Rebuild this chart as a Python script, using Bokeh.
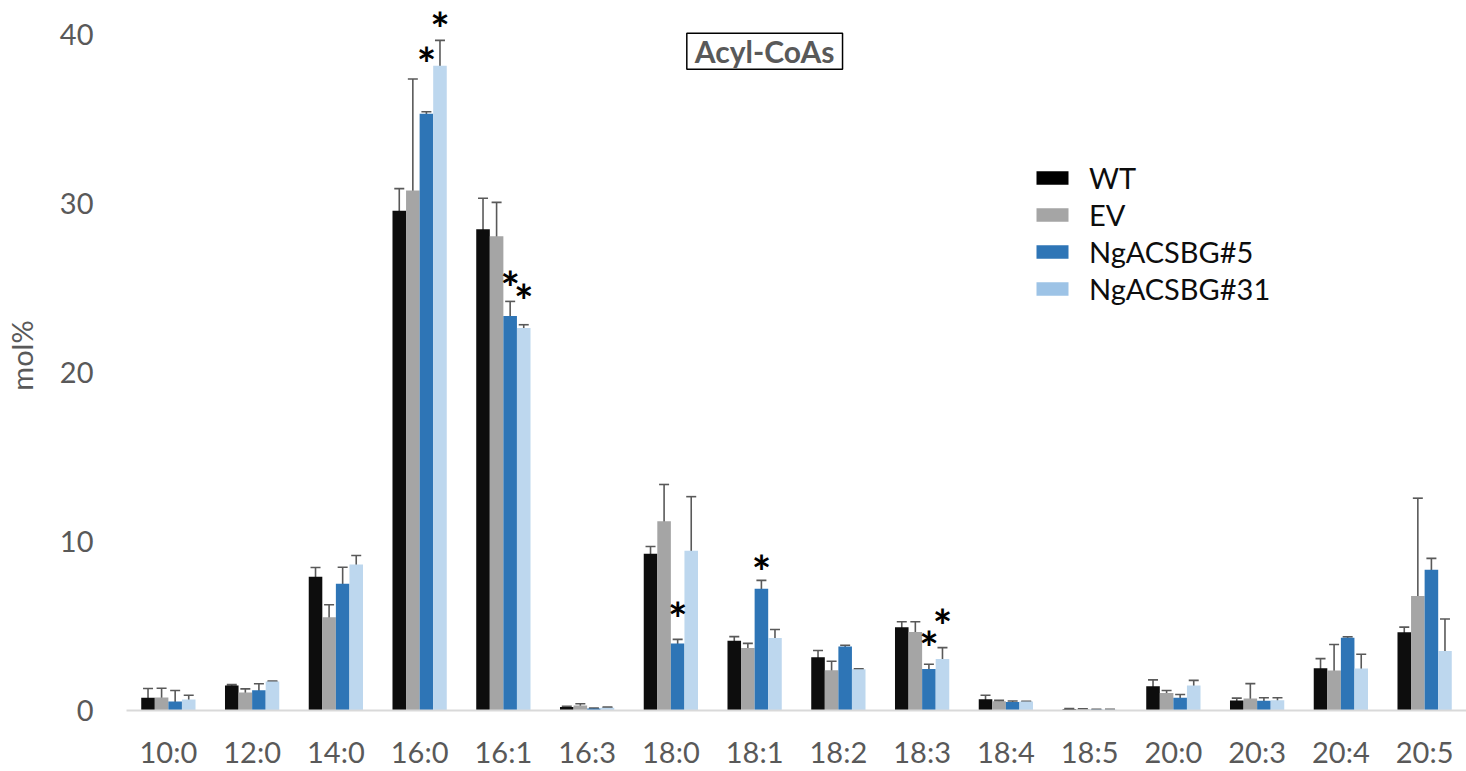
import numpy as np
from bokeh.plotting import figure
from bokeh.models import (FactorRange, Range1d, ColumnDataSource, Whisker, TeeHead,
                          Label, Legend, LegendItem, FixedTicker)
from bokeh.core.properties import value
from bokeh.embed import file_html
from bokeh.resources import INLINE

categories = ["10:0", "12:0", "14:0", "16:0", "16:1", "16:3", "18:0", "18:1",
              "18:2", "18:3", "18:4", "18:5", "20:0", "20:3", "20:4", "20:5"]
series = ["WT", "EV", "NgACSBG#5", "NgACSBG#31"]

wt     = [0.75, 1.48, 7.91, 29.57, 28.47, 0.20, 9.27, 4.13, 3.15, 4.92, 0.67, 0.08, 1.44, 0.59, 2.50, 4.63]
wt_err = [0.55, 0.05, 0.55, 1.30, 1.83, 0.05, 0.43, 0.24, 0.40, 0.33, 0.23, 0.03, 0.37, 0.14, 0.57, 0.30]
ev     = [0.77, 1.06, 5.51, 30.76, 28.06, 0.30, 11.20, 3.70, 2.38, 4.65, 0.55, 0.08, 1.04, 0.71, 2.36, 6.77]
ev_err = [0.55, 0.22, 0.75, 6.60, 2.00, 0.10, 2.17, 0.27, 0.53, 0.60, 0.05, 0.02, 0.14, 0.88, 1.54, 5.79]
ng5     = [0.53, 1.20, 7.50, 35.30, 23.33, 0.12, 3.96, 7.20, 3.78, 2.46, 0.51, 0.05, 0.75, 0.57, 4.31, 8.33]
ng5_err = [0.65, 0.38, 0.97, 0.12, 0.87, 0.03, 0.25, 0.50, 0.08, 0.28, 0.05, 0.02, 0.20, 0.18, 0.05, 0.67]
ng31     = [0.65, 1.71, 8.64, 38.14, 22.62, 0.17, 9.45, 4.29, 2.44, 3.05, 0.53, 0.05, 1.48, 0.61, 2.48, 3.52]
ng31_err = [0.25, 0.03, 0.53, 1.50, 0.20, 0.03, 3.20, 0.50, 0.03, 0.67, 0.02, 0.02, 0.30, 0.14, 0.85, 1.89]

# significance markers: (category, series index, height)
star_cat = ["16:0", "16:0", "16:1", "16:1", "18:0", "18:1", "18:3", "18:3"]
star_ser = [2, 3, 2, 3, 2, 2, 2, 3]
star_y   = [38.9, 41.0, 25.7, 24.9, 6.1, 8.9, 4.4, 5.7]

y_ticks = [0, 10, 20, 30, 40]
title_text = "Acyl-CoAs"

values = [wt, ev, ng5, ng31]
errors = [wt_err, ev_err, ng5_err, ng31_err]
bar_colors = ["#0d0d0d", "#a5a5a5", "#2e75b6", "#bdd7ee"]
legend_colors = ["#000000", "#a5a5a5", "#2e75b6", "#9dc3e6"]

FONT = "Lato"
GRAY = "#595959"
BAR_W = 0.162
offsets = [-1.5 * BAR_W, -0.5 * BAR_W, 0.5 * BAR_W, 1.5 * BAR_W]

p = figure(width=1466, height=771, x_range=FactorRange(factors=categories, range_padding=0),
           y_range=Range1d(0, 42.0), output_backend="svg", toolbar_location=None,
           min_border_left=124, min_border_right=0, min_border_top=0, min_border_bottom=58)
p.outline_line_color = None
p.xgrid.grid_line_color = None
p.ygrid.grid_line_color = None

centers = np.arange(len(categories)) + 0.5
for k in range(4):
    xs = centers + offsets[k]
    v = np.array(values[k])
    e = np.array(errors[k])
    src = ColumnDataSource(dict(x=xs, top=v, lo=v - e, hi=v + e))
    p.vbar(x="x", top="top", width=BAR_W, source=src, fill_color=bar_colors[k],
           line_color=None)
    w = Whisker(base="x", lower="lo", upper="hi", source=src, dimension="height",
                line_color=GRAY, line_width=1.6,
                upper_head=TeeHead(size=10, line_color=GRAY, line_width=1.6),
                lower_head=TeeHead(size=10, line_color=GRAY, line_width=1.6))
    p.add_layout(w)

# stars
sx = [categories.index(c) + 0.5 + offsets[s] for c, s in zip(star_cat, star_ser)]
p.text(x=sx, y=star_y, text=["*"] * len(sx), text_font=value(FONT), text_font_style="bold",
       text_font_size="46px", text_color="#000000", text_align="center",
       text_baseline="middle", y_offset=11)

# legend with zero-height dummy bars (so the swatch colours can differ)
items = []
for k in range(4):
    r = p.vbar(x=[centers[0]], top=[0], bottom=[0], width=BAR_W,
               fill_color=legend_colors[k], line_color=None)
    items.append(LegendItem(label=series[k], renderers=[r]))
legend = Legend(items=items, location=(906, 404), glyph_width=40, glyph_height=17,
                label_standoff=17, spacing=2, padding=0, margin=0,
                border_line_color=None, background_fill_alpha=0,
                label_text_font=FONT, label_text_font_size="29px", label_text_color="#0d0d0d")
p.add_layout(legend)

# title box
p.add_layout(Label(x=7.62, y=39.0, text=title_text, text_font=FONT, text_font_style="bold",
                   text_font_size="30px", text_color=GRAY, text_align="center",
                   text_baseline="middle", border_line_color="#000000", border_line_width=1.5,
                   background_fill_color="white", padding=(8, 0)))

# axes
p.xaxis.axis_line_color = "#d9d9d9"
p.xaxis.axis_line_width = 2
p.xaxis.major_tick_line_color = None
p.xaxis.minor_tick_line_color = None
p.xaxis.major_tick_out = 0
p.xaxis.major_tick_in = 0
p.xaxis.major_label_text_font = FONT
p.xaxis.major_label_text_font_size = "29px"
p.xaxis.major_label_text_color = GRAY
p.xaxis.major_label_standoff = 23

p.yaxis.ticker = FixedTicker(ticks=y_ticks)
p.yaxis.axis_line_color = None
p.yaxis.major_tick_line_color = None
p.yaxis.minor_tick_line_color = None
p.yaxis.major_tick_out = 0
p.yaxis.major_tick_in = 0
p.yaxis.major_label_text_font = FONT
p.yaxis.major_label_text_font_size = "29px"
p.yaxis.major_label_text_color = GRAY
p.yaxis.major_label_standoff = 33
p.yaxis.axis_label = "mol%"
p.yaxis.axis_label_text_font = FONT
p.yaxis.axis_label_text_font_size = "29px"
p.yaxis.axis_label_text_font_style = "normal"
p.yaxis.axis_label_text_color = GRAY
p.yaxis.axis_label_standoff = 18

open("out.html", "w").write(file_html(p, INLINE))
